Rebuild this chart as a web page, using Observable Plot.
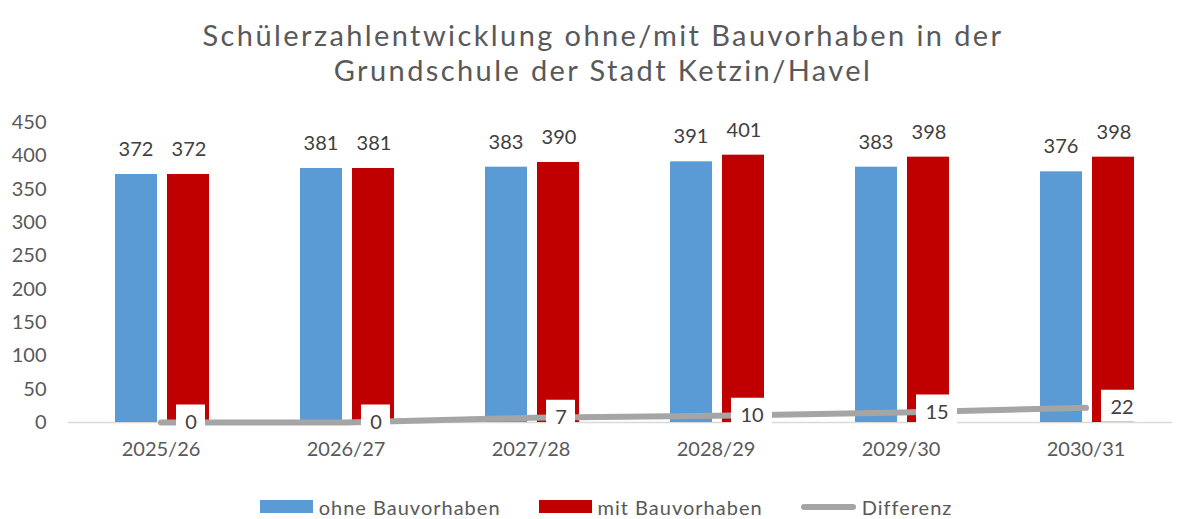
<!DOCTYPE html>
<html>
<head>
<meta charset="utf-8">
<script src="https://cdn.jsdelivr.net/npm/d3@7"></script>
<script src="https://cdn.jsdelivr.net/npm/@observablehq/plot@0.6"></script>
<style>
  html, body { margin: 0; padding: 0; background: #fff; }
  body { width: 1178px; height: 519px; overflow: hidden; font-family: Lato, "Open Sans", sans-serif; }
  #title { box-sizing: border-box; height: 88px; padding-top: 17px; padding-left: 28px; text-align: center;
           font-family: Lato, sans-serif; font-size: 29px; letter-spacing: 2.4px; color: #595959; }
  #title div { height: 35px; line-height: 35px; white-space: nowrap; }
  #legend { display: flex; justify-content: center; align-items: center; height: 31px; padding-left: 34px; padding-top: 6px;
            box-sizing: border-box; font-size: 20px; letter-spacing: 1px; color: #595959; }
  .item { display: flex; align-items: center; margin: 0 19px; }
  .sw { width: 53px; height: 13px; margin-right: 6px; }
  .ln { width: 55px; height: 6px; border-radius: 3px; margin-right: 6px; }
</style>
</head>
<body>
<div id="title"><div>Schülerzahlentwicklung ohne/mit Bauvorhaben in der</div><div>Grundschule der Stadt Ketzin/Havel</div></div>
<div id="chart"></div>
<div id="legend"></div>
<script>
const categories = ["2025/26", "2026/27", "2027/28", "2028/29", "2029/30", "2030/31"];
const ohne = [372, 381, 383, 391, 383, 376];
const mit = [372, 381, 390, 401, 398, 398];
const differenz = [0, 0, 7, 10, 15, 22];
const yTicks = [0, 50, 100, 150, 200, 250, 300, 350, 400, 450];
const seriesNames = ["ohne Bauvorhaben", "mit Bauvorhaben", "Differenz"];
const colors = ["#5B9BD5", "#C00000", "#A5A5A5"];

const rows = categories.map((c, i) => ({cat: c, ohne: ohne[i], mit: mit[i], diff: differenz[i]}));
const oneDigit = rows.filter(d => String(d.diff).length === 1);
const twoDigit = rows.filter(d => String(d.diff).length === 2);

const chart = Plot.plot({
  width: 1178,
  height: 400,
  marginLeft: 68,
  marginRight: 0,
  marginTop: 34,
  marginBottom: 66,
  style: {fontFamily: "Lato, 'Open Sans', sans-serif", fontSize: "20px", color: "#595959", background: "#fff"},
  x: {domain: categories, padding: 0, label: null},
  y: {domain: [0, 450], label: null},
  marks: [
    Plot.axisY({ticks: yTicks, tickSize: 0, tickPadding: 22, fontSize: 20, fill: "#595959", label: null}),
    Plot.axisX({tickSize: 0, tickPadding: 19, fontSize: 20, fill: "#595959", label: null}),
    Plot.ruleY([0], {stroke: "#D9D9D9", strokeWidth: 1.5, insetRight: 6}),
    Plot.barY(rows, {x: "cat", y: "ohne", fill: colors[0], insetLeft: 47, insetRight: 96}),
    Plot.barY(rows, {x: "cat", y: "mit", fill: colors[1], insetLeft: 99, insetRight: 44}),
    Plot.text(rows, {x: "cat", y: "ohne", text: d => String(d.ohne), dx: -25, dy: -25, fill: "#404040", fontSize: 20}),
    Plot.text(rows, {x: "cat", y: "mit", text: d => String(d.mit), dx: 28, dy: -25, fill: "#404040", fontSize: 20}),
    Plot.line(rows, {x: "cat", y: "diff", stroke: colors[2], strokeWidth: 6, strokeLinecap: "round"}),
    Plot.tickY(oneDigit, {x: "cat", y: "diff", stroke: "#fff", strokeWidth: 32, insetLeft: 108, insetRight: 48, dy: -2}),
    Plot.tickY(twoDigit, {x: "cat", y: "diff", stroke: "#fff", strokeWidth: 32, insetLeft: 108, insetRight: 36, dy: -2}),
    Plot.text(oneDigit, {x: "cat", y: "diff", text: d => String(d.diff), dx: 30, dy: 0, fill: "#404040", fontSize: 20}),
    Plot.text(twoDigit, {x: "cat", y: "diff", text: d => String(d.diff), dx: 36, dy: 0, fill: "#404040", fontSize: 20})
  ]
});
document.getElementById("chart").appendChild(chart);

const legend = document.getElementById("legend");
seriesNames.forEach((name, i) => {
  const item = document.createElement("div");
  item.className = "item";
  const sw = document.createElement("div");
  sw.className = i === 2 ? "ln" : "sw";
  sw.style.background = colors[i];
  const label = document.createElement("span");
  label.textContent = name;
  item.appendChild(sw);
  item.appendChild(label);
  legend.appendChild(item);
});
</script>
</body>
</html>
